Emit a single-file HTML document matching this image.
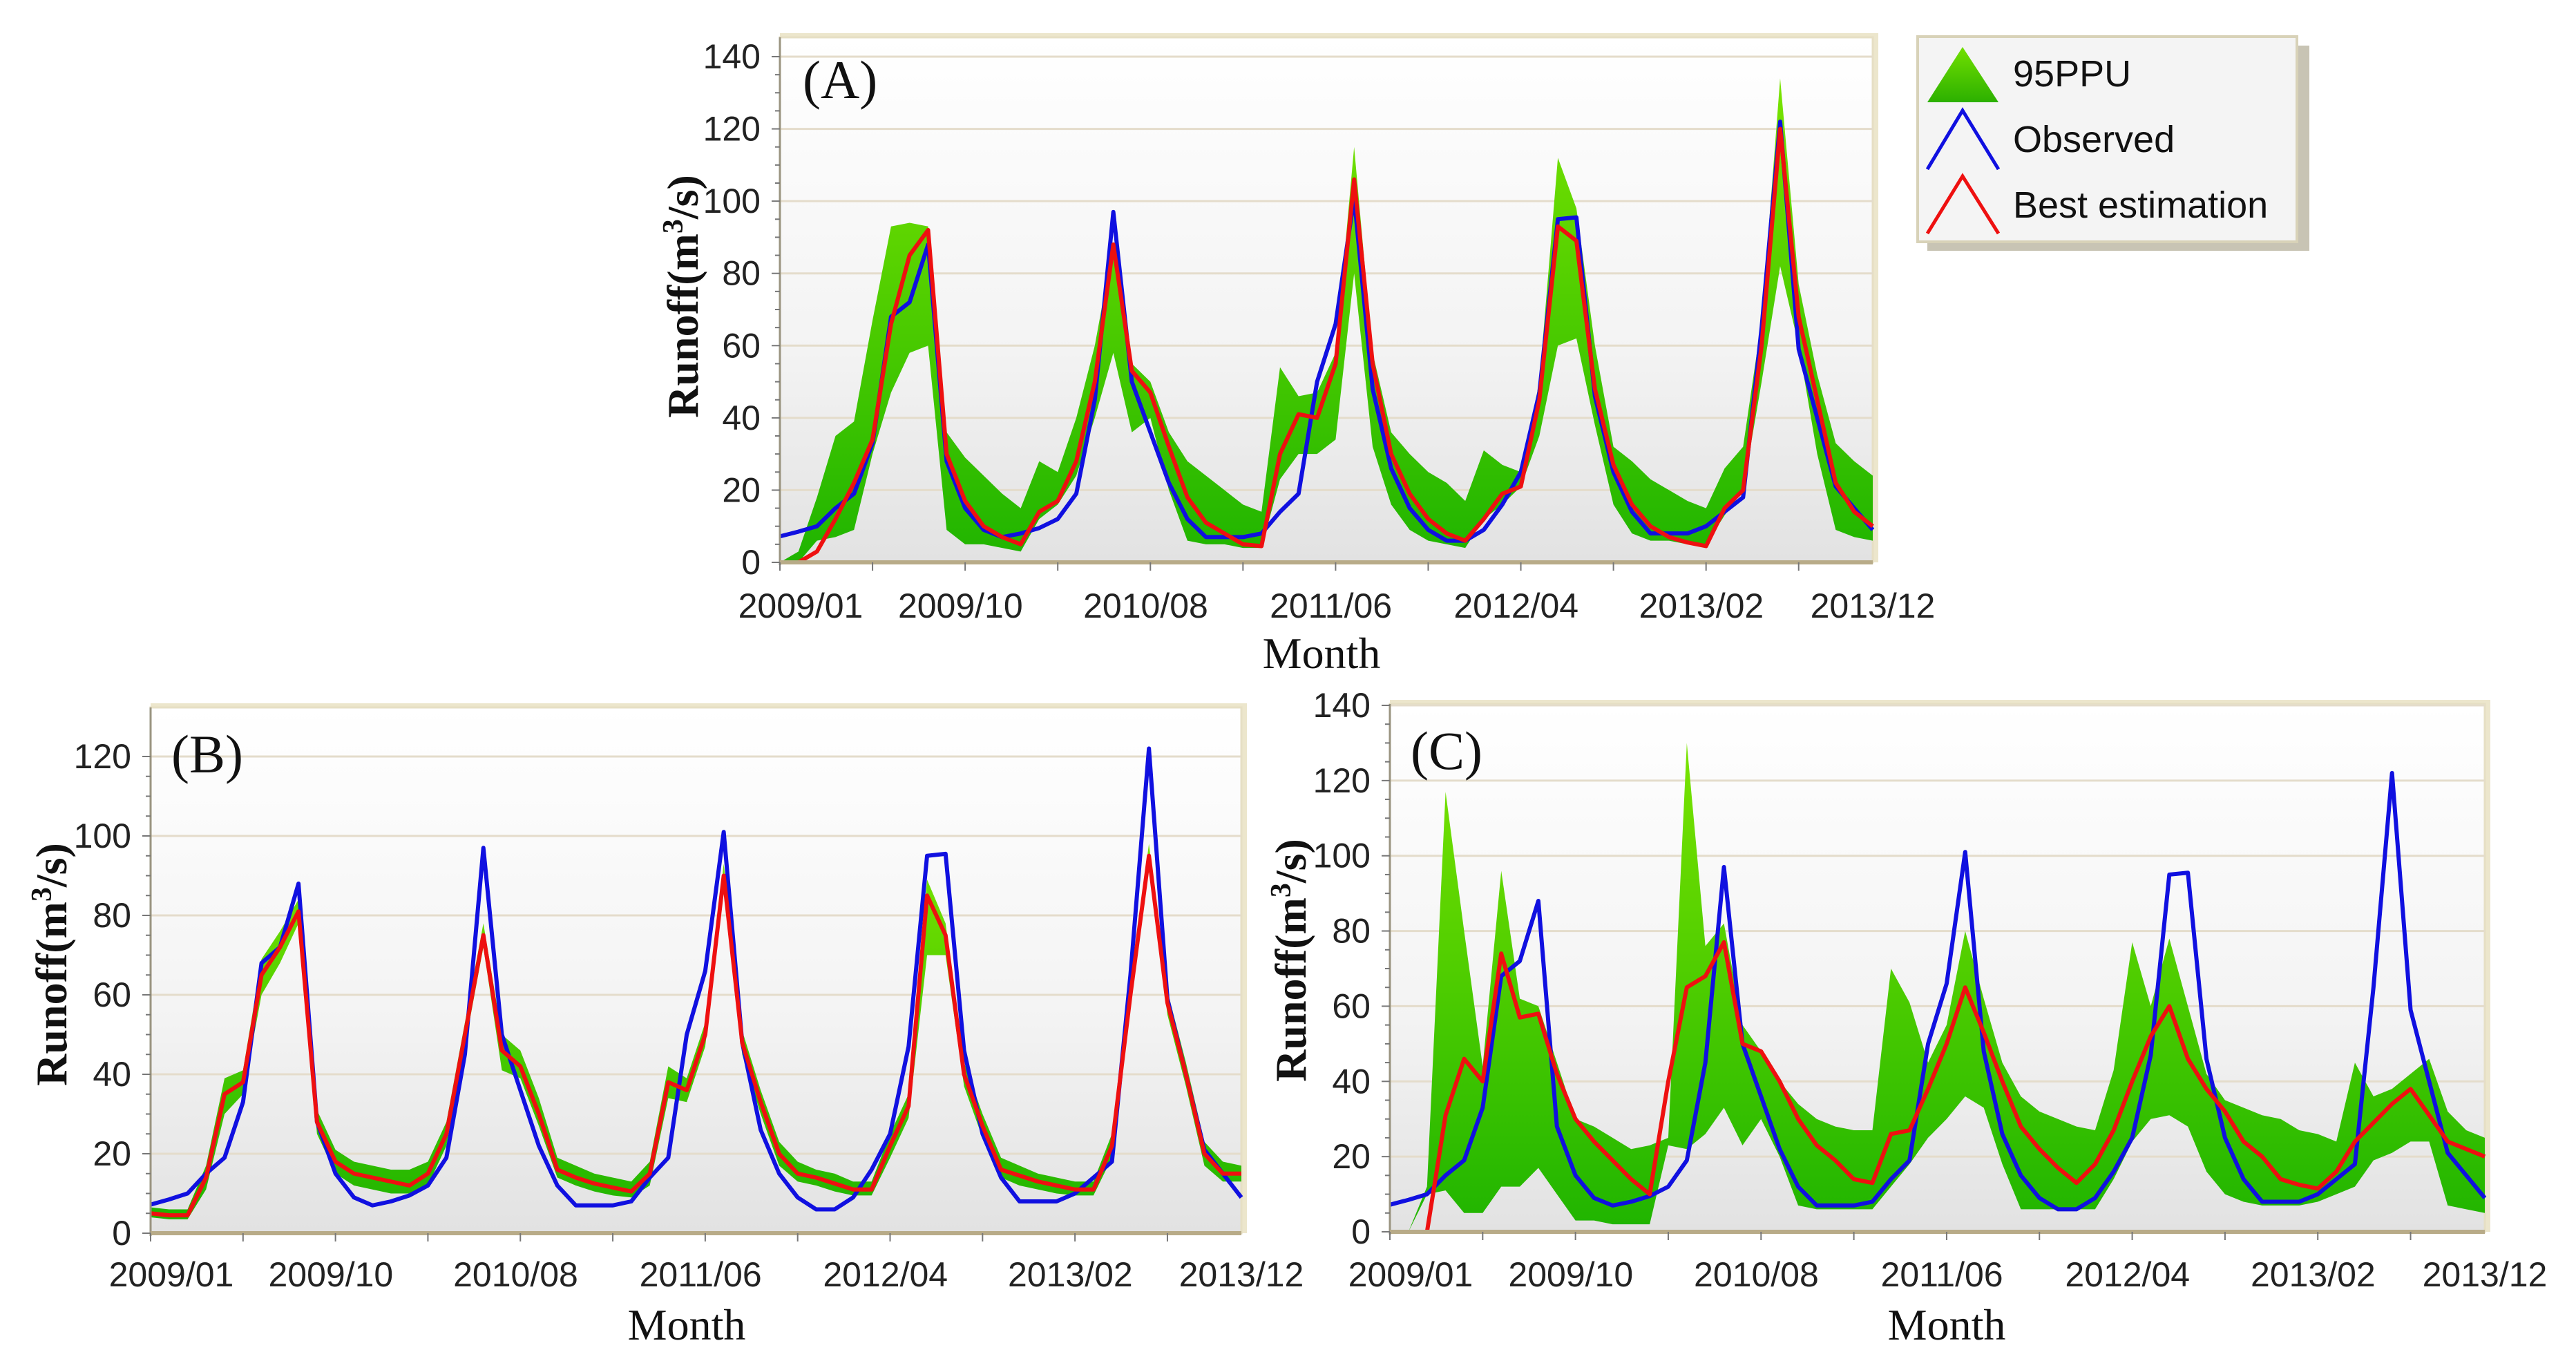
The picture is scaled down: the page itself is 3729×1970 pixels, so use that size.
<!DOCTYPE html>
<html><head><meta charset="utf-8"><style>
html,body{margin:0;padding:0;background:#fff;}
svg{display:block;}
</style></head><body>
<svg id="fig" width="3729" height="1970" viewBox="0 0 3729 1970" xmlns="http://www.w3.org/2000/svg">
<defs>
<linearGradient id="bg" x1="0" y1="0" x2="0" y2="1"><stop offset="0" stop-color="#ffffff"/><stop offset="0.6" stop-color="#f3f3f3"/><stop offset="1" stop-color="#e2e2e2"/></linearGradient>
<linearGradient id="gr" x1="0" y1="0" x2="0" y2="1"><stop offset="0" stop-color="#7ae400"/><stop offset="1" stop-color="#1fb400"/></linearGradient>
<linearGradient id="lg" x1="0" y1="0" x2="0" y2="1"><stop offset="0" stop-color="#72e000"/><stop offset="1" stop-color="#2cb000"/></linearGradient>
</defs>
<g id="panels"></g>
<g>
<rect x="2790" y="66" width="553" height="297" fill="#c8c4b4"/>
<rect x="2776" y="53" width="549" height="297" fill="#f4f4f4" stroke="#d8d2b8" stroke-width="4"/>
<polygon points="2841,68 2790,148 2893,148" fill="url(#lg)"/>
<text x="2914" y="125" font-family="Liberation Sans, sans-serif" font-size="54" fill="#111">95PPU</text>
<polyline points="2790,245 2841,160 2893,245" fill="none" stroke="#1010e0" stroke-width="5"/>
<text x="2914" y="220" font-family="Liberation Sans, sans-serif" font-size="54" fill="#111">Observed</text>
<polyline points="2790,338 2841,255 2893,338" fill="none" stroke="#ee1010" stroke-width="5"/>
<text x="2914" y="315" font-family="Liberation Sans, sans-serif" font-size="54" fill="#111">Best estimation</text>
</g>
</svg>
<script>
const observed = [7.2,8.5,10,15,19,33,68,72,88,28,15,9,7,8,9.5,12,19,45,97,50,36,22,12,7,7,7,8,14,19,50,66,101,48,26,15,9,6,6,9,16,25,47,95,95.5,46,25,14,8,8,8,10,14,18,65,122,59,40,21,15,9];
const bestA = [0,0,3,12,22,34,66,85,92,30,17,10,7,5,14,17,28,50,88,53,47,32,18,11,8,5,4.5,30,41,40,55,106,55,30,19,12,8,6,12,19,21,45,93,89,48,27,16,10,7,5.5,4.5,15,20,60,120,68,45,22,14,10];
const upA = [0,3,18,35,39,67,93,94,93,36,29,24,19,15,28,25,40,60,88,55,50,36,28,24,20,16,14,54,46,47,58,115,58,36,30,25,22,17,31,27,25,50,112,98,60,32,28,23,20,17,15,26,32,67,134,77,52,33,28,24];
const loA = [0,0,6,7,9,30,47,58,60,9,5,5,4,3,12,16,24,40,58,36,40,20,6,5,5,4,4,23,30,30,34,80,32,16,9,6,5,4,12,16,21,35,60,62,38,16,8,6,6,5,5,13,20,50,82,60,30,9,7,6];
const bestB = [5,4.5,4.5,14,35,38,65,72,81,28,18,15,14,13,12,15,25,50,75,46,42,30,16,14,12.5,11.5,10.5,15,38,36,50,90,48,33,20,15,14,12.5,11,11,22,32,85,75,40,27,16,14.5,13,12,11,11,22,60,95,58,40,20,15,15];
const upB = [6.5,6,6,17,39,41,69,76,84,31,21,18,17,16,16,18,28,53,78,50,46,34,19,17,15,14,13,18,42,39,53,93,51,36,23,18,16,15,13,13,25,35,89,78,43,30,19,17,15,14,13,13,25,63,98,61,43,23,18,17];
const loB = [4,3.5,3.5,11,30,35,60,68,78,25,15,12,11,10,10,12,22,47,72,41,39,27,14,12,10.5,9.5,9,12,34,33,47,87,45,30,17,13,12,10.5,9.5,9.5,19,29,70,70,37,24,14,12,11,10,9.5,9.5,19,57,92,55,37,17,13,13];
const bestC = [0,0,0,31,46,40,74,57,58,42,30,24,19,14,10,40,65,68,77,50,48,40,30,23,19,14,13,26,27,38,50,65,53,40,28,22,17,13,18,27,40,52,60,46,38,32,24,20,14,12.5,11.5,16,24,29,34,38,31,24,22,20];
const upC = [0,0,12,117,80,44,96,62,60,45,30,28,25,22,23,25,130,76,82,55,48,40,34,30,28,27,27,70,61,45,55,80,62,45,36,32,30,28,27,43,77,60,78,60,42,35,33,31,30,27,26,24,45,36,38,42,46,32,27,25];
const loC = [0,0,10,11,5,5,12,12,17,10,3,3,2,2,2,23,22,26,33,23,30,20,7,6,6,6,6,12,18,25,30,36,33,18,6,6,6,6,6,14,24,30,31,28,16,10,8,7,7,7,8,10,12,19,21,24,24,7,6,5];
const xTickLabels = ["2009/01","2009/10","2010/08","2011/06","2012/04","2013/02","2013/12"];
const xTickMonths = [0,9,19,29,39,49,59];
const yTicksA = [0,20,40,60,80,100,120,140];
const yTicksB = [0,20,40,60,80,100,120];
const yTicksC = [0,20,40,60,80,100,120,140];

const NS="http://www.w3.org/2000/svg";
const root=document.getElementById('panels');
function mk(tag,attrs,parent){const e=document.createElementNS(NS,tag);for(const k in attrs)e.setAttribute(k,attrs[k]);(parent||root).appendChild(e);return e;}

function panel(cfg){
  const g=mk('g',{});
  
  
  const {L,R,Y0,Ytop,top}=cfg;
  const yTop=cfg.ytopVal;
  const sy=v=>Y0-(Y0-Ytop)*v/yTop;
  const sx=m=>L+(R-L)*m/59;
  mk('rect',{x:L,y:top-6,width:R-L+8,height:Y0-top+6,fill:'#ece6cc'},g);
  const bg=mk('rect',{x:L,y:top,width:R-L,height:Y0-top,fill:'url(#bg)',stroke:'#e6dfc4','stroke-width':3},g);
  
  
  cfg.yt.forEach(v=>{ if(v>0){const l=mk('line',{x1:L,x2:R,y1:sy(v),y2:sy(v),stroke:'#e4dccb','stroke-width':3},g);
    
    }});
  let pts=[];
  for(let i=0;i<60;i++)pts.push(sx(i)+','+sy(cfg.up[i]));
  for(let i=59;i>=0;i--)pts.push(sx(i)+','+sy(cfg.lo[i]));
  const band=mk('polygon',{points:pts.join(' '),fill:'url(#gr)'},g);
  
  
  const ob=mk('polyline',{points:observed.map((v,i)=>sx(i)+','+sy(v)).join(' '),fill:'none',stroke:'#1010e0','stroke-width':6,'stroke-linejoin':'round'},g);
  
  
  const be=mk('polyline',{points:cfg.best.map((v,i)=>sx(i)+','+sy(v)).join(' '),fill:'none',stroke:'#ee1010','stroke-width':6,'stroke-linejoin':'round'},g);
  
  
  mk('line',{x1:L,x2:L,y1:top,y2:Y0+4,stroke:'#9a9480','stroke-width':3},g);
  mk('line',{x1:L,x2:R,y1:Y0,y2:Y0,stroke:'#b8ab88','stroke-width':6},g);
  for(let v=0;v<=yTop+0.1;v+=5){ if(sy(v)<top)break; mk('line',{x1:L-(v%20===0?12:7),x2:L,y1:sy(v),y2:sy(v),stroke:'#777','stroke-width':2},g);}
  for(let m=0;m<=59;m+=5){mk('line',{x1:sx(m),x2:sx(m),y1:Y0,y2:Y0+12,stroke:'#777','stroke-width':2},g);}
  cfg.yt.forEach(v=>{const t=mk('text',{x:L-28,y:sy(v)+17,'text-anchor':'end','font-family':'Liberation Sans Narrow, Liberation Sans, sans-serif','font-size':50,fill:'#222'},g);t.textContent=v;
    
    });
  xTickLabels.forEach((s,i)=>{const m=xTickMonths[i];const t=mk('text',{x:sx(m)+(i===0?30:(i===6?0:20)),y:cfg.xlabY,'text-anchor':'middle','font-family':'Liberation Sans Narrow, Liberation Sans, sans-serif','font-size':50,fill:'#222'},g);t.textContent=s;
    
    });
  const mt=mk('text',{x:cfg.monthX,y:cfg.monthY,'text-anchor':'middle','font-family':'Liberation Serif, serif','font-size':64,fill:'#111'},g);mt.textContent='Month';
  
  
  const yt=mk('text',{x:0,y:0,transform:`translate(${cfg.ytX},${cfg.ytY}) rotate(-90)`,'text-anchor':'middle','font-family':'Liberation Serif, serif','font-weight':'bold','font-size':64,fill:'#111'},g);
  yt.innerHTML='Runoff(m<tspan font-size="42" dy="-22">3</tspan><tspan dy="22">/s)</tspan>';
  
  
  const pl=mk('text',{x:cfg.plX,y:cfg.plY,'font-family':'Liberation Serif, serif','font-size':78,fill:'#111'},g);pl.textContent='('+cfg.id+')';
  
  
}
panel({id:'A',L:1129,R:2711,Y0:814,Ytop:82,ytopVal:140,top:54,yt:yTicksA,best:bestA,up:upA,lo:loA,xlabY:894,monthX:1913,monthY:967,ytX:1010,ytY:429,plX:1162,plY:142});
panel({id:'B',L:218,R:1797,Y0:1785,Ytop:1095,ytopVal:120,top:1024,yt:yTicksB,best:bestB,up:upB,lo:loB,xlabY:1862,monthX:994,monthY:1939,ytX:96,ytY:1396,plX:248,plY:1118});
panel({id:'C',L:2012,R:3597,Y0:1783,Ytop:1021,ytopVal:140,top:1019,yt:yTicksC,best:bestC,up:upC,lo:loC,xlabY:1862,monthX:2818,monthY:1939,ytX:1890,ytY:1390,plX:2042,plY:1113});
</script>
</body></html>
